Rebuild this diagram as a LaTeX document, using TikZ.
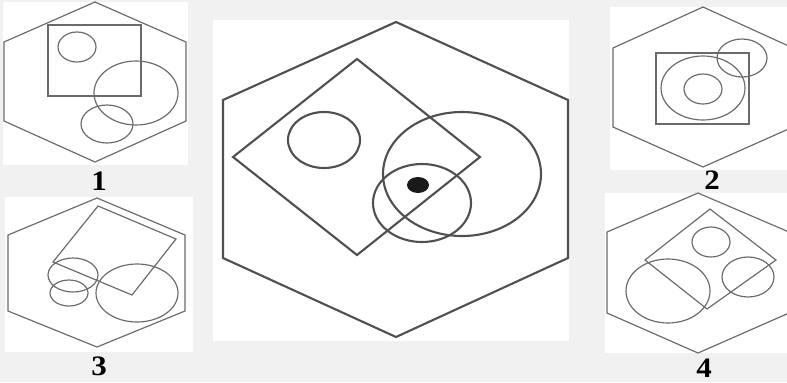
\documentclass[tikz,border=0pt]{standalone}
\usepackage{fontspec}
\setmainfont{Liberation Serif}
\usetikzlibrary{positioning}

\definecolor{pagegray}{HTML}{F1F1F1}
\definecolor{inkgray}{HTML}{6A6A6A}
\definecolor{maingray}{HTML}{505050}

\tikzset{
  panel/.style={fill=white, draw=none},
  thin fig/.style={draw=inkgray, line width=1pt},
  thick fig/.style={draw=maingray, line width=1.8pt},
  numlabel/.style={font=\fontsize{24}{24}\selectfont\bfseries, inner sep=0pt, xscale=1.1}
}

\begin{document}
\begin{tikzpicture}[x=0.03cm, y=-0.03cm]
  \clip (0,0) rectangle (787,382);
  \fill[pagegray] (0,0) rectangle (787,382);

  % white panels
  \fill[panel] (3,2) rectangle (188,165);
  \fill[panel] (5,197) rectangle (193,352);
  \fill[panel] (213,20) rectangle (569,341);
  \fill[panel] (610,7) rectangle (787,170);
  \fill[panel] (605,193) rectangle (787,353);

  % panel 1
  \draw[thin fig] (95,2) -- (186,42) -- (186,121) -- (95,162) -- (4,121) -- (4,42) -- cycle;
  \draw[thin fig] (48,25) rectangle (141,96);
  \draw[thin fig] (77,47) ellipse [x radius=19, y radius=15];
  \draw[thin fig] (136,93) ellipse [x radius=42, y radius=32];
  \draw[thin fig] (107,124) ellipse [x radius=26, y radius=19];
  \node[numlabel] (lab1) at (99,181) {1};

  % panel 3
  \draw[thin fig] (97,198) -- (185,235) -- (185,311) -- (97,347) -- (8,311) -- (8,235) -- cycle;
  \draw[thin fig] (98,206) -- (176,239) -- (132,295) -- (53,262) -- cycle;
  \draw[thin fig] (73,275) ellipse [x radius=25, y radius=17];
  \draw[thin fig] (69,293) ellipse [x radius=19, y radius=13];
  \draw[thin fig] (137,293) ellipse [x radius=41, y radius=29];
  \node[numlabel] (lab3) at (99,366) {3};

  % main figure
  \draw[thick fig] (396,22) -- (568,100) -- (568,258) -- (396,337) -- (223,258) -- (223,100) -- cycle;
  \draw[thick fig] (357,59) -- (480,157) -- (357,255) -- (233,157) -- cycle;
  \draw[thick fig] (324,140) ellipse [x radius=36, y radius=28];
  \draw[thick fig] (462,174) ellipse [x radius=79, y radius=62];
  \draw[thick fig] (422,203) ellipse [x radius=49, y radius=39];
  \fill[black!90] (418,185) ellipse [x radius=11, y radius=8];

  % panel 2
  \draw[thin fig] (703,7) -- (793,48) -- (793,127) -- (703,167) -- (613,127) -- (613,48) -- cycle;
  \draw[thin fig] (656,53) rectangle (749,124);
  \draw[thin fig] (703,88) ellipse [x radius=42, y radius=32];
  \draw[thin fig] (703,89) ellipse [x radius=19, y radius=15];
  \draw[thin fig] (742,58) ellipse [x radius=25, y radius=19];
  \node[numlabel] (lab2) at (712,180) {2};

  % panel 4
  \draw[thin fig] (698,193) -- (789,232) -- (789,313) -- (698,353) -- (607,313) -- (607,232) -- cycle;
  \draw[thin fig] (710,209) -- (776,260) -- (707,309) -- (645,260) -- cycle;
  \draw[thin fig] (711,242) ellipse [x radius=19, y radius=15];
  \draw[thin fig] (748,277) ellipse [x radius=26, y radius=20];
  \draw[thin fig] (668,291) ellipse [x radius=42, y radius=32];
  \node[numlabel] (lab4) at (704,368) {4};
\end{tikzpicture}
\end{document}
